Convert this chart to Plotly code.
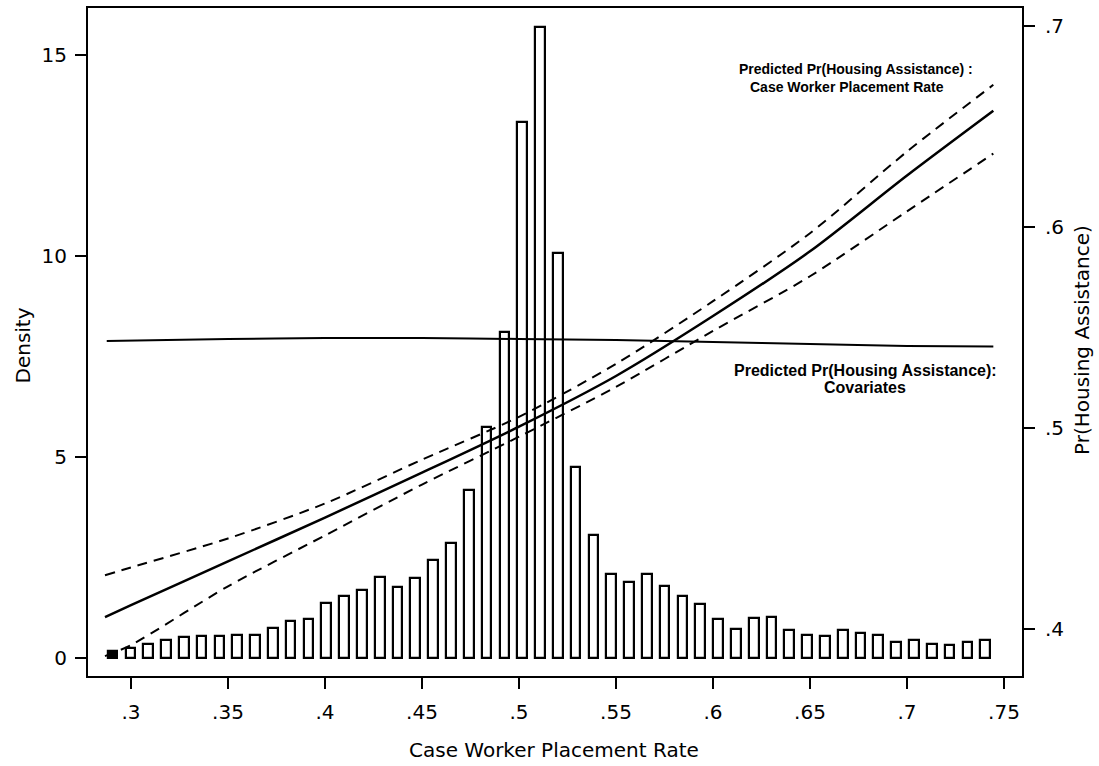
import plotly.graph_objects as go

# Histogram of case worker placement rates (density scale, 50 bins)
bin_start = 0.2859
bin_width = 0.00918
density = [0.17, 0.26, 0.35, 0.44, 0.53, 0.55, 0.55, 0.57, 0.58, 0.75,
           0.91, 0.97, 1.38, 1.55, 1.69, 2.02, 1.77, 1.98, 2.44, 2.85,
           4.19, 5.74, 8.10, 13.32, 15.69, 10.08, 4.75, 3.05, 2.10, 1.89,
           2.10, 1.79, 1.54, 1.35, 0.96, 0.73, 1.00, 1.02, 0.71, 0.57,
           0.56, 0.71, 0.62, 0.58, 0.40, 0.46, 0.35, 0.32, 0.40, 0.46]

# Predicted Pr(Housing Assistance) by placement rate, with confidence bounds
rate_grid = [0.2866, 0.30, 0.35, 0.40, 0.45, 0.50, 0.55, 0.60, 0.65, 0.70, 0.7445]
pred_upper = [0.4268, 0.4307, 0.4451, 0.4625, 0.4843, 0.5056, 0.5319, 0.5631, 0.5969, 0.6375, 0.6707]
pred_mean = [0.4060, 0.4119, 0.4337, 0.4555, 0.4778, 0.5007, 0.5259, 0.5557, 0.5879, 0.6256, 0.6578]
pred_lower = [0.3866, 0.3921, 0.4213, 0.4466, 0.4719, 0.4957, 0.5205, 0.5483, 0.5755, 0.6078, 0.6365]

# Predicted Pr(Housing Assistance) from covariates only
cov_grid = [0.2875, 0.35, 0.40, 0.45, 0.50, 0.55, 0.60, 0.65, 0.70, 0.7445]
cov_pred = [0.5433, 0.5443, 0.5448, 0.5448, 0.5443, 0.5438, 0.5428, 0.5418, 0.5408, 0.5405]

x_tickvals = [0.30, 0.35, 0.40, 0.45, 0.50, 0.55, 0.60, 0.65, 0.70, 0.75]
x_ticktext = [".3", ".35", ".4", ".45", ".5", ".55", ".6", ".65", ".7", ".75"]
y_tickvals = [0, 5, 10, 15]
y_ticktext = ["0", "5", "10", "15"]
y2_tickvals = [0.4, 0.5, 0.6, 0.7]
y2_ticktext = [".4", ".5", ".6", ".7"]

FONT = "DejaVu Sans"
bin_centers = [bin_start + (i + 0.5) * bin_width for i in range(len(density))]
bar_fill = ["black" if i == 0 else "white" for i in range(len(density))]

fig = go.Figure()
fig.add_trace(go.Bar(
    x=bin_centers, y=density, width=0.0050,
    marker=dict(color=bar_fill, line=dict(color="black", width=2.2)),
    yaxis="y", showlegend=False, hoverinfo="skip",
))
fig.add_trace(go.Scatter(
    x=cov_grid, y=cov_pred, mode="lines", yaxis="y2",
    line=dict(color="black", width=2, shape="spline", smoothing=0.8), showlegend=False,
))
for ys, dash, w in [(pred_upper, "10px,7px", 2), (pred_mean, "solid", 2.5), (pred_lower, "10px,7px", 2)]:
    fig.add_trace(go.Scatter(
        x=rate_grid, y=ys, mode="lines", yaxis="y2",
        line=dict(color="black", width=w, dash=dash, shape="spline", smoothing=0.8),
        showlegend=False,
    ))

axis_common = dict(
    ticks="outside", ticklen=11, tickwidth=1.5, tickcolor="black",
    showline=True, linewidth=2, linecolor="black",
    showgrid=False, zeroline=False,
    tickfont=dict(family=FONT, size=20, color="black"),
)

fig.update_layout(
    width=1099, height=766, autosize=False,
    margin=dict(l=88, r=77, t=6, b=90),
    paper_bgcolor="white", plot_bgcolor="white",
    font=dict(family=FONT, color="black"),
    bargap=0,
    xaxis=dict(range=[0.27784, 0.75928], tickvals=x_tickvals, ticktext=x_ticktext,
               mirror=True, ticklabelstandoff=6, **axis_common),
    yaxis=dict(range=[-0.446, 16.166], tickvals=y_tickvals, ticktext=y_ticktext,
               ticklabelstandoff=4, **axis_common),
    yaxis2=dict(range=[0.3767, 0.7089], tickvals=y2_tickvals, ticktext=y2_ticktext,
                overlaying="y", side="right", ticklabelstandoff=6, **axis_common),
)

def px_x(px):
    return (px - 88) / 934

def px_y(py):
    return (676 - py) / 670

annotations = [
    dict(text="Case Worker Placement Rate", x=px_x(554), y=px_y(750), size=20, angle=0, bold=False),
    dict(text="Density", x=px_x(22.5), y=px_y(345), size=20, angle=-90, bold=False),
    dict(text="Pr(Housing Assistance)", x=px_x(1082), y=px_y(339), size=20, angle=-90, bold=False),
    dict(text="Predicted Pr(Housing Assistance) :", x=px_x(856), y=px_y(67), size=14, angle=0, bold=True),
    dict(text="Case Worker Placement Rate", x=px_x(847), y=px_y(85.5), size=14, angle=0, bold=True),
    dict(text="Predicted Pr(Housing Assistance):", x=px_x(865), y=px_y(370), size=16, angle=0, bold=True),
    dict(text="Covariates", x=px_x(865), y=px_y(386.5), size=16, angle=0, bold=True),
]
for a in annotations:
    fam = "Liberation Sans" if a["bold"] else FONT
    fig.add_annotation(
        text=a["text"], x=a["x"], y=a["y"], xref="paper", yref="paper",
        xanchor="center", yanchor="middle", showarrow=False, textangle=a["angle"],
        font=dict(family=fam, size=a["size"], color="black",
                  weight="bold" if a["bold"] else "normal"),
    )

fig.write_html("out.html")
